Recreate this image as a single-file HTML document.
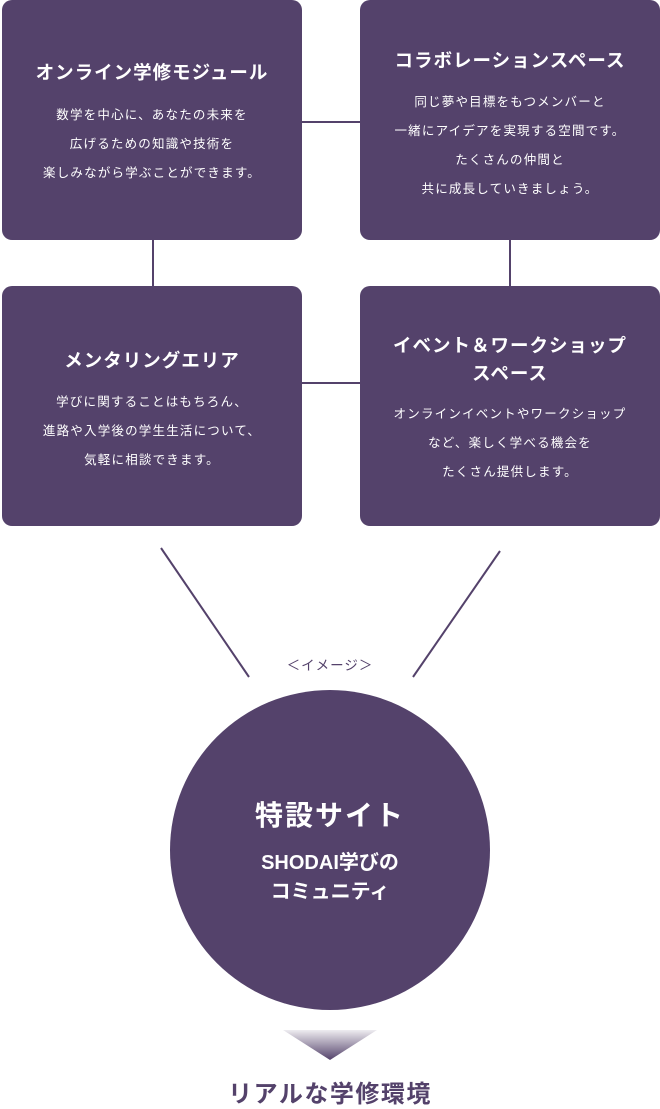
<!DOCTYPE html><html><head><meta charset="utf-8"><style>
body{margin:0;width:660px;height:1105px;background:#fff;position:relative;font-family:"Liberation Sans","Noto Sans CJK JP",sans-serif;overflow:hidden}
.b{position:absolute;width:300px;height:240px;background:#54426b;border-radius:10px;color:#fff;text-align:center;box-sizing:border-box}
.b h3{margin:0;font-size:18.5px;font-weight:bold;letter-spacing:1px;line-height:28px}
.b p{margin:0;font-size:12.5px;line-height:29px;letter-spacing:1.2px}
.l{position:absolute;background:#54426b}
</style></head><body>
<div class="b" style="left:2px;top:0;padding-top:59px"><h3>オンライン学修モジュール</h3><p style="margin-top:14px">数学を中心に、あなたの未来を<br>広げるための知識や技術を<br>楽しみながら学ぶことができます。</p></div>
<div class="b" style="left:360px;top:0;padding-top:47px"><h3>コラボレーションスペース</h3><p style="margin-top:13px">同じ夢や目標をもつメンバーと<br>一緒にアイデアを実現する空間です。<br>たくさんの仲間と<br>共に成長していきましょう。</p></div>
<div class="b" style="left:2px;top:286px;padding-top:61px"><h3>メンタリングエリア</h3><p style="margin-top:13px">学びに関することはもちろん、<br>進路や入学後の学生生活について、<br>気軽に相談できます。</p></div>
<div class="b" style="left:360px;top:286px;padding-top:46px"><h3>イベント＆ワークショップ<br>スペース</h3><p style="margin-top:12px">オンラインイベントやワークショップ<br>など、楽しく学べる機会を<br>たくさん提供します。</p></div>
<div class="l" style="left:301px;top:121px;width:59px;height:2px"></div>
<div class="l" style="left:301px;top:382px;width:59px;height:2px"></div>
<div class="l" style="left:152px;top:240px;width:2px;height:46px"></div>
<div class="l" style="left:509px;top:240px;width:2px;height:46px"></div>
<svg style="position:absolute;left:0;top:0" width="660" height="1105">
<line x1="161" y1="548" x2="249" y2="677" stroke="#54426b" stroke-width="2"/>
<line x1="500" y1="551" x2="413" y2="677" stroke="#54426b" stroke-width="2"/>
<circle cx="330" cy="850" r="160" fill="#54426b"/>
<defs><linearGradient id="g" x1="0" y1="0" x2="0" y2="1"><stop offset="0" stop-color="#54426b" stop-opacity="0.1"/><stop offset="1" stop-color="#54426b"/></linearGradient></defs>
<polygon points="283,1030 377,1030 330,1060" fill="url(#g)"/>
</svg>
<div style="position:absolute;left:0;width:660px;top:654px;text-align:center;font-size:13.5px;color:#54426b;letter-spacing:1px">＜イメージ＞</div>
<div style="position:absolute;left:0;width:660px;top:794px;text-align:center;color:#fff;font-weight:bold;font-size:28px;letter-spacing:2px">特設サイト</div>
<div style="position:absolute;left:0;width:660px;top:849px;text-align:center;color:#fff;font-weight:bold;font-size:20px;line-height:29px">SHODAI学びの<br>コミュニティ</div>
<div style="position:absolute;left:0;width:660px;top:1074px;text-align:center;color:#54426b;font-weight:bold;font-size:24px;letter-spacing:1.5px">リアルな学修環境</div>
</body></html>
